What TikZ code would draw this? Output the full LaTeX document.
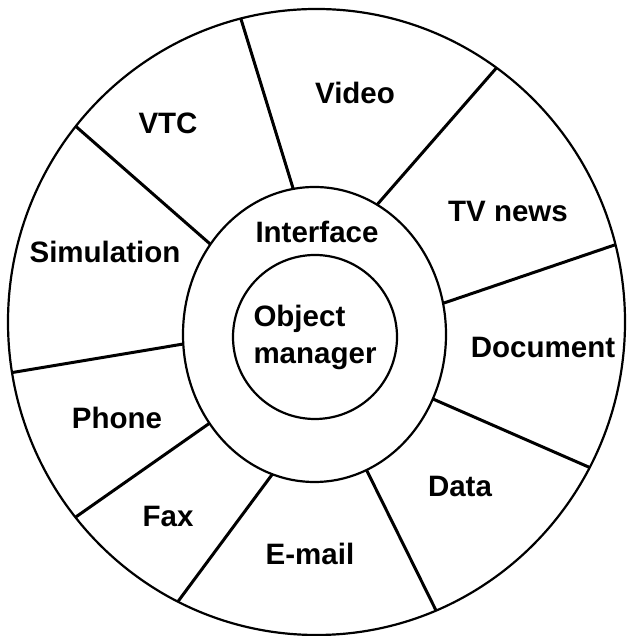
\documentclass[tikz,border=0pt]{standalone}
\usepackage{fontspec}
\newfontfamily\lblfont{Liberation Sans}
\usepackage{tikz}
\usetikzlibrary{positioning, calc}

\tikzset{
    sector/.style={font=\lblfont\bfseries\fontsize{29.5}{37}\selectfont, inner sep=0pt},
    ring/.style={line width=2.2pt},
    spoke/.style={line width=3pt}
}

\begin{document}
\begin{tikzpicture}[x=1pt, y=1pt]
    \useasboundingbox (0,0) rectangle (627,636);

    % Anillos
    \coordinate (mid) at (316.5,314);
    \coordinate (ifc) at (314.5,301.5);
    \draw[ring] (mid) ellipse [x radius=308.5, y radius=313];
    \draw[ring] (ifc) ellipse [x radius=131.5, y radius=147.5];
    \node[circle, draw, ring, minimum size=164pt, inner sep=0pt, sector, align=left] (obj) at (315,299) {Object\\manager};
    \node[sector] (iface) at (317,404) {Interface};

    % Radios entre los anillos
    \foreach \a/\b [count=\i] in {99.3/104.2, 61.6/54.3, 12.2/14.3, -25.9/-27.7, -66.7/-67.2,
                                  251.3/243.3, 217/218.6, 183.7/189.3, 142.3/141.3} {
        \coordinate (in\i) at ($(ifc)+(\a:131.5 and 147.5)$);
        \coordinate (out\i) at ($(mid)+(\b:308.5 and 313)$);
        \draw[spoke] (in\i) -- (out\i);
    }

    % Servicios
    \node[sector] (vtc) at (168,513) {VTC};
    \node[sector] (video) at (355,543) {Video};
    \node[sector] (tvnews) at (508,424) {TV news};
    \node[sector] (doc) at (543,288) {Document};
    \node[sector] (data) at (460,150) {Data};
    \node[sector] (email) at (310,82) {E-mail};
    \node[sector] (fax) at (168,120) {Fax};
    \node[sector] (phone) at (117,218) {Phone};
    \node[sector] (sim) at (105,384) {Simulation};
\end{tikzpicture}
\end{document}
